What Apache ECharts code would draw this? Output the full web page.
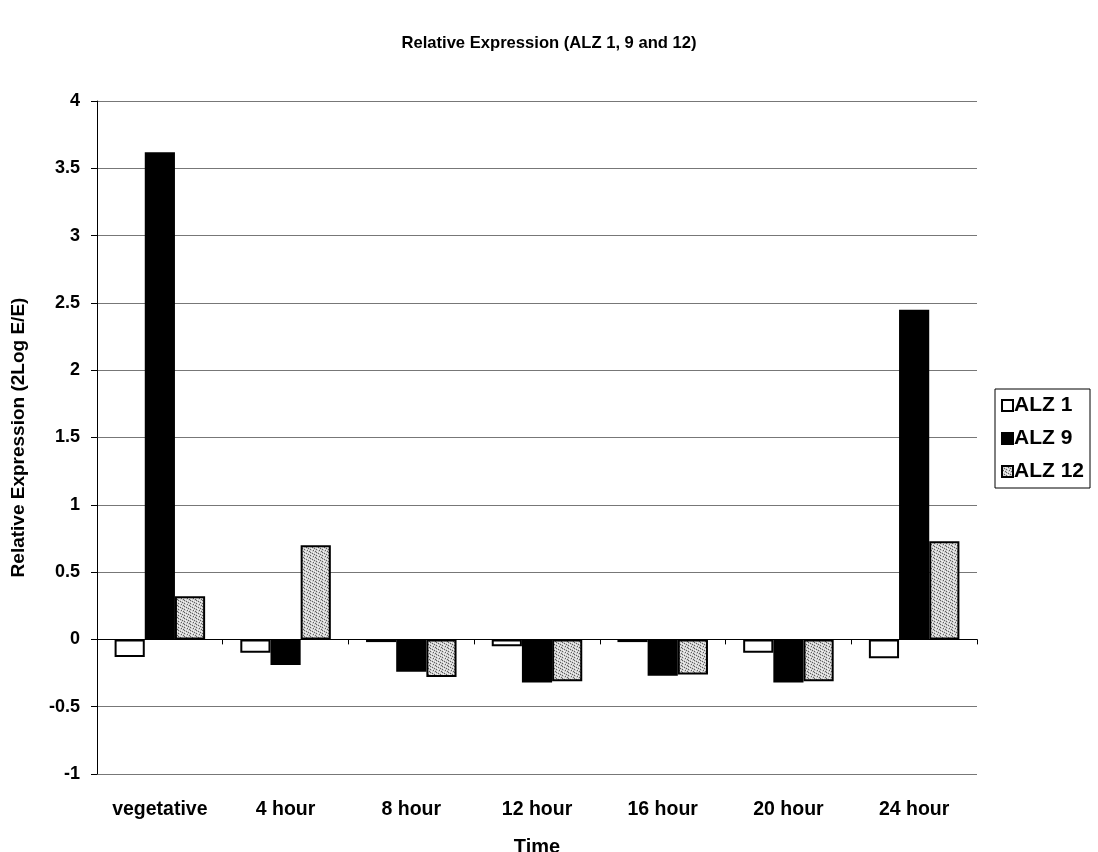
<!DOCTYPE html>
<html>
<head>
<meta charset="utf-8">
<script src="https://cdn.jsdelivr.net/npm/echarts@6/dist/echarts.min.js"></script>
<style>
  html, body { margin: 0; padding: 0; background: #fff; }
  #chart { width: 1098px; height: 852px; }
</style>
</head>
<body>
<div id="chart"></div>
<script>
// Time points along the category axis
const categories = ['vegetative', '4 hour', '8 hour', '12 hour', '16 hour', '20 hour', '24 hour'];
// Relative expression (2Log E/E) per gene
const alz1 = [-0.13, -0.10, -0.02, -0.05, -0.02, -0.10, -0.14];
const alz9 = [3.62, -0.19, -0.24, -0.32, -0.27, -0.32, 2.45];
const alz12 = [0.32, 0.70, -0.28, -0.31, -0.26, -0.31, 0.73];
const seriesNames = ['ALZ 1', 'ALZ 9', 'ALZ 12'];

// Stippled grey fill for ALZ 12, built from a fixed dot bitmap
function stipple() {
  const bits = [
    '.x..#.',
    '#..x..',
    '..#..x',
    'x...#.',
    '.#x...',
    '...#.x'
  ];
  const c = document.createElement('canvas');
  c.width = 6; c.height = 6;
  const g = c.getContext('2d');
  g.fillStyle = '#d0d0d0';
  g.fillRect(0, 0, 6, 6);
  for (let y = 0; y < 6; y++) {
    for (let x = 0; x < 6; x++) {
      const ch = bits[y][x];
      if (ch === '#') { g.fillStyle = '#606060'; g.fillRect(x, y, 1, 1); }
      else if (ch === 'x') { g.fillStyle = '#f4f4f4'; g.fillRect(x, y, 1, 1); }
    }
  }
  return { image: c, repeat: 'repeat' };
}

const font = "'Liberation Sans', Arial, sans-serif";
const chart = echarts.init(document.getElementById('chart'), null, { renderer: 'canvas' });

const barStyle = (fill) => ({ color: fill, borderColor: '#000', borderWidth: 2 });

chart.setOption({
  backgroundColor: '#fff',
  animation: false,
  title: {
    text: 'Relative Expression (ALZ 1, 9 and 12)',
    left: 'center',
    top: 30,
    textStyle: { fontFamily: font, fontWeight: 'bold', fontSize: 16.6, color: '#000' }
  },
  legend: {
    orient: 'vertical',
    left: 995,
    top: 389,
    itemWidth: 11,
    itemHeight: 11,
    itemGap: 12,
    padding: [6, 6, 6, 6],
    borderColor: '#000',
    borderWidth: 1,
    data: seriesNames,
    textStyle: { fontFamily: font, fontWeight: 'bold', fontSize: 21, color: '#000', padding: [0, 0, 0, -4] },
    icon: 'rect'
  },
  grid: { left: 97, right: 121, top: 101, bottom: 78, outerBoundsMode: 'none' },
  xAxis: [
    {
      type: 'category',
      data: categories,
      position: 'bottom',
      axisLine: { onZero: true, lineStyle: { color: '#000', width: 1 } },
      axisTick: { show: true, length: 5, lineStyle: { color: '#000' } },
      axisLabel: { show: false },
      splitLine: { show: false }
    },
    {
      type: 'category',
      data: categories,
      position: 'bottom',
      axisLine: { onZero: false, show: false },
      axisTick: { show: false },
      axisLabel: { fontFamily: font, fontWeight: 'bold', fontSize: 19.5, color: '#000', margin: 26 },
      name: 'Time',
      nameLocation: 'middle',
      nameGap: 63,
      nameTextStyle: { fontFamily: font, fontWeight: 'bold', fontSize: 20, color: '#000' }
    }
  ],
  yAxis: {
    type: 'value',
    min: -1,
    max: 4,
    interval: 0.5,
    axisLine: { show: true, lineStyle: { color: '#000', width: 1 } },
    axisTick: { show: true, length: 6, lineStyle: { color: '#000' } },
    axisLabel: { fontFamily: font, fontWeight: 'bold', fontSize: 18, color: '#000', margin: 17 },
    splitLine: { lineStyle: { color: '#777', width: 1 } },
    name: 'Relative Expression (2Log E/E)',
    nameLocation: 'middle',
    nameGap: 69,
    nameTextStyle: { fontFamily: font, fontWeight: 'bold', fontSize: 19, color: '#000' }
  },
  series: [
    { name: seriesNames[0], type: 'bar', data: alz1, barGap: '0%', barCategoryGap: '28%', itemStyle: barStyle('#ffffff') },
    { name: seriesNames[1], type: 'bar', data: alz9, barGap: '0%', barCategoryGap: '28%', itemStyle: barStyle('#000000') },
    { name: seriesNames[2], type: 'bar', data: alz12, barGap: '0%', barCategoryGap: '28%', itemStyle: barStyle(stipple()) }
  ]
});
</script>
</body>
</html>
